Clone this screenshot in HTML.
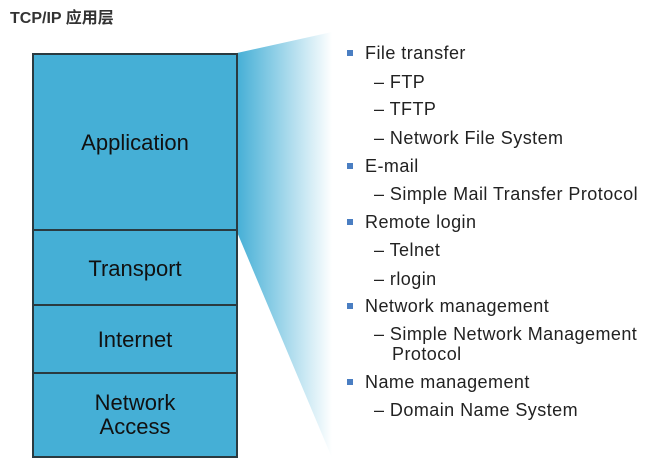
<!DOCTYPE html>
<html><head><meta charset="utf-8"><style>
body{margin:0;width:656px;height:468px;background:#fff;overflow:hidden;position:relative;font-family:"Liberation Sans",Arial,sans-serif;}
.t{position:absolute;left:10px;top:4px;font-size:16px;font-weight:bold;color:#333;font-family:"Liberation Sans","Noto Sans CJK SC",sans-serif;}
.box{position:absolute;left:32px;width:202px;border:2px solid #2a3a40;background:#45afd6;color:#111;font-size:22px;text-align:center;display:flex;align-items:center;justify-content:center;line-height:24px;}
.l{position:absolute;font-size:18px;letter-spacing:0.45px;color:#222;white-space:nowrap;}
.b{position:absolute;width:6px;height:6px;background:#4a7ec2;}
</style></head><body>
<div class="t">TCP/IP 应用层</div>
<svg width="656" height="468" style="position:absolute;left:0;top:0">
<defs><linearGradient id="g" x1="0" x2="1" y1="0" y2="0"><stop offset="0" stop-color="#45afd6"/><stop offset="1" stop-color="#fff"/></linearGradient></defs>
<polygon points="237,53 332,32 332,458 237,232" fill="url(#g)"/>
</svg>
<div class="box" style="top:53px;height:176px">Application</div>
<div class="box" style="top:229px;height:75px">Transport</div>
<div class="box" style="top:304px;height:68px">Internet</div>
<div class="box" style="top:372px;height:82px">Network<br>Access</div>
<div class="b" style="left:347px;top:50px"></div><div class="l" style="left:365px;top:43px">File transfer</div>
<div class="l" style="left:374px;top:72px">– FTP</div>
<div class="l" style="left:374px;top:99px">– TFTP</div>
<div class="l" style="left:374px;top:128px">– Network File System</div>
<div class="b" style="left:347px;top:163px"></div><div class="l" style="left:365px;top:156px">E-mail</div>
<div class="l" style="left:374px;top:184px">– Simple Mail Transfer Protocol</div>
<div class="b" style="left:347px;top:219px"></div><div class="l" style="left:365px;top:212px">Remote login</div>
<div class="l" style="left:374px;top:240px">– Telnet</div>
<div class="l" style="left:374px;top:269px">– rlogin</div>
<div class="b" style="left:347px;top:303px"></div><div class="l" style="left:365px;top:296px">Network management</div>
<div class="l" style="left:374px;top:324px">– Simple Network Management</div>
<div class="l" style="left:392px;top:344px">Protocol</div>
<div class="b" style="left:347px;top:379px"></div><div class="l" style="left:365px;top:372px">Name management</div>
<div class="l" style="left:374px;top:400px">– Domain Name System</div>
</body></html>
